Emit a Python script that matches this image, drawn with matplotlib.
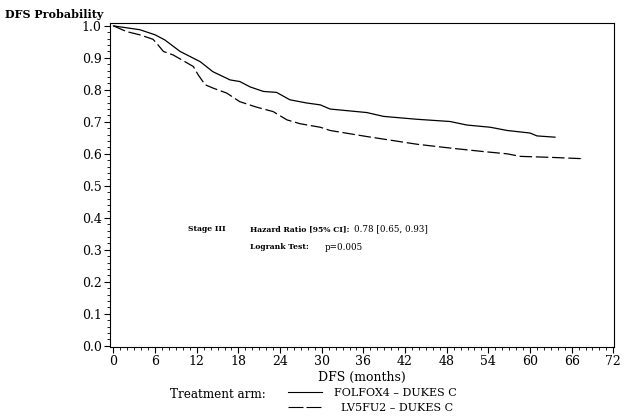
import matplotlib
matplotlib.use("Agg")
import matplotlib.pyplot as plt
from matplotlib.lines import Line2D
from matplotlib.ticker import MultipleLocator

# Data (months, survival probability)
folfox_t = [0, 3.8, 6.0, 7.4, 9.6, 12.5, 14.3, 16.8, 18.2, 19.7, 21.6, 23.5, 25.4, 27.8,
            29.8, 31.2, 36.5, 38.9, 43.7, 48.5, 50.9, 54.3, 56.7, 60.0, 61.0, 63.6]
folfox_s = [1.0, 0.988, 0.972, 0.956, 0.92, 0.888, 0.857, 0.831, 0.826, 0.809, 0.795, 0.792,
            0.769, 0.759, 0.753, 0.74, 0.729, 0.717, 0.708, 0.701, 0.69, 0.683, 0.673, 0.665,
            0.656, 0.652]
lv5fu2_t = [0, 1.9, 3.8, 5.7, 6.2, 7.2, 8.6, 10.3, 11.5, 12.2, 13.2, 14.4, 16.3, 18.2,
            20.6, 23.0, 25.0, 26.9, 29.8, 31.2, 36.5, 41.3, 43.7, 48.5, 53.3, 56.7, 58.6,
            62.9, 67.3, 67.3]
lv5fu2_s = [1.0, 0.982, 0.972, 0.958, 0.946, 0.92, 0.909, 0.888, 0.873, 0.847, 0.816, 0.805,
            0.79, 0.763, 0.746, 0.732, 0.706, 0.694, 0.683, 0.673, 0.654, 0.638, 0.63, 0.618,
            0.607, 0.6, 0.592, 0.589, 0.585, 0.576]
x_ticks = [0, 6, 12, 18, 24, 30, 36, 42, 48, 54, 60, 66, 72]
y_ticks = [0.0, 0.1, 0.2, 0.3, 0.4, 0.5, 0.6, 0.7, 0.8, 0.9, 1.0]
series_labels = ["FOLFOX4 \u2013 DUKES C", "LV5FU2 \u2013 DUKES C"]

SERIF = "DejaVu Serif"
plt.rcParams["font.family"] = SERIF

W, H = 633, 418
fig = plt.figure(figsize=(W / 100, H / 100), dpi=100)
ax = fig.add_axes([110 / W, 71 / H, (614 - 110) / W, (347 - 23) / H])

ax.plot(folfox_t, folfox_s, color="black", lw=0.9)
ax.plot(lv5fu2_t, lv5fu2_s, color="black", lw=0.9, linestyle=(0, (10, 3)))

ax.set_xlim(-0.5, 72.1)
ax.set_ylim(-0.004, 1.009)
ax.set_xticks(x_ticks)
ax.set_xticklabels([str(v) for v in x_ticks])
ax.set_yticks(y_ticks)
ax.set_yticklabels([f"{v:.1f}" for v in y_ticks])
ax.xaxis.set_minor_locator(MultipleLocator(1))
ax.yaxis.set_minor_locator(MultipleLocator(0.02))
ax.tick_params(which="major", direction="out", length=4, width=0.8, labelsize=9, pad=2)
ax.tick_params(which="minor", direction="out", length=2, width=0.6)
for s in ax.spines.values():
    s.set_linewidth(0.8)

ax.set_xlabel("DFS (months)", fontsize=9, labelpad=2)

fig.text(5 / W, 1 - 15 / H, "DFS Probability", fontsize=8, fontweight="bold", va="center", ha="left")

# Annotations
fig.text(188 / W, 1 - 229 / H, "Stage III", fontsize=5.5, fontweight="bold", va="center")
fig.text(250 / W, 1 - 229 / H, "Hazard Ratio [95% CI]:", fontsize=5.5, fontweight="bold", va="center")
fig.text(354 / W, 1 - 229 / H, "0.78 [0.65, 0.93]", fontsize=6.3, va="center")
fig.text(250 / W, 1 - 247 / H, "Logrank Test:", fontsize=5.5, fontweight="bold", va="center")
fig.text(325 / W, 1 - 247 / H, "p=0.005", fontsize=6.3, va="center")

# Legend
fig.text(266 / W, 1 - 394 / H, "Treatment arm:", fontsize=8.6, va="center", ha="right")
fig.add_artist(Line2D([288 / W, 322 / W], [1 - 392 / H, 1 - 392 / H], color="black", lw=0.8,
                      transform=fig.transFigure))
fig.add_artist(Line2D([288 / W, 322 / W], [1 - 407 / H, 1 - 407 / H], color="black", lw=0.8,
                      linestyle=(0, (13.5, 2.7)), transform=fig.transFigure))
fig.text(395 / W, 1 - 393 / H, series_labels[0], fontsize=8, va="center", ha="center")
fig.text(397 / W, 1 - 408 / H, series_labels[1], fontsize=8, va="center", ha="center")

fig.savefig("out.png", dpi=100)
